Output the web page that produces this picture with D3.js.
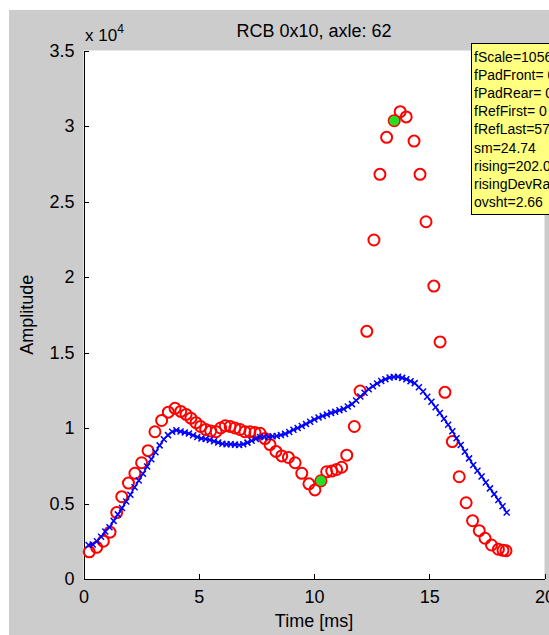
<!DOCTYPE html>
<html><head><meta charset="utf-8">
<script src="https://cdn.jsdelivr.net/npm/d3@7"></script>
<style>body{margin:0;background:#fff}svg{display:block}text{font-family:"Liberation Sans",Arial,sans-serif;fill:#000}</style>
</head><body><svg id="c" width="549" height="635"></svg>
<script>
const titleText = "RCB 0x10, axle: 62";
const xLabel = "Time [ms]";
const yLabel = "Amplitude";
const xTickValues = [0, 5, 10, 15, 20];
const yTickValues = [0, 0.5, 1, 1.5, 2, 2.5, 3, 3.5];
const yTickLabels = ["0", "0.5", "1", "1.5", "2", "2.5", "3", "3.5"];
const yExponent = "4";

// raw samples (red circles), amplitude in units of 10^4
const rawTime = [0.25,0.57,0.86,1.15,1.44,1.66,1.95,2.23,2.52,2.80,3.10,3.39,3.68,3.97,4.22,4.45,4.66,4.88,5.08,5.30,5.52,5.75,5.95,6.15,6.36,6.57,6.79,7.00,7.22,7.44,7.66,7.87,8.09,8.35,8.60,8.89,9.18,9.47,9.78,10.04,10.30,10.55,10.77,10.98,11.20,11.42,11.75,12.00,12.29,12.60,12.86,13.15,13.48,13.74,14.00,14.34,14.60,14.86,15.20,15.47,15.68,16.00,16.30,16.60,16.88,17.17,17.42,17.70,18.00,18.20,18.33];
const rawAmp = [0.18,0.21,0.25,0.31,0.44,0.545,0.635,0.70,0.77,0.85,0.975,1.05,1.105,1.13,1.11,1.09,1.065,1.035,1.01,0.99,0.98,0.975,1.0,1.015,1.01,1.0,0.99,0.975,0.975,0.97,0.965,0.93,0.89,0.845,0.815,0.805,0.77,0.70,0.63,0.59,0.65,0.71,0.715,0.725,0.74,0.82,1.01,1.245,1.64,2.245,2.68,2.925,3.035,3.095,3.06,2.90,2.68,2.366,1.94,1.57,1.236,0.91,0.677,0.505,0.386,0.32,0.27,0.225,0.197,0.19,0.187];

// smoothed signal (blue x line), sampled every smoothDt ms from smoothT0
const smoothT0 = 0.22;
const smoothDt = 0.1814;
const smoothAmp = [0.225,0.229,0.25,0.28,0.314,0.343,0.385,0.428,0.47,0.513,0.558,0.607,0.652,0.697,0.745,0.793,0.839,0.885,0.925,0.953,0.975,0.985,0.977,0.97,0.963,0.952,0.941,0.931,0.927,0.921,0.912,0.904,0.896,0.893,0.892,0.89,0.888,0.893,0.903,0.915,0.928,0.94,0.941,0.942,0.945,0.947,0.954,0.961,0.974,0.988,1.0,1.013,1.027,1.042,1.056,1.069,1.079,1.09,1.10,1.108,1.117,1.126,1.142,1.158,1.182,1.208,1.233,1.257,1.276,1.295,1.311,1.323,1.335,1.338,1.34,1.332,1.323,1.31,1.297,1.27,1.242,1.207,1.174,1.137,1.099,1.061,1.022,0.979,0.932,0.888,0.843,0.799,0.755,0.717,0.679,0.639,0.60,0.562,0.523,0.482,0.44];

// highlighted points (green)
const markTime = [10.30, 13.48];
const markAmp = [0.65, 3.035];

const infoLines = ["fScale=1056.3","fPadFront= 0","fPadRear= 0","fRefFirst= 0","fRefLast=57","sm=24.74","rising=202.05","risingDevRatio","ovsht=2.66"];

const svg = d3.select("#c");
svg.append("rect").attr("x",0).attr("y",0).attr("width",549).attr("height",635).attr("fill","#fff");
svg.append("rect").attr("x",9).attr("y",10).attr("width",540).attr("height",625).attr("fill","#cccccc");

const x = d3.scaleLinear().domain([0,20]).range([83.5,544.5]);
const y = d3.scaleLinear().domain([0,3.5]).range([579,50.5]);

svg.append("rect").attr("x",x(0)).attr("y",y(3.5)).attr("width",x(20)-x(0)).attr("height",y(0)-y(3.5)).attr("fill","#fff");

// axes
const gx = svg.append("g").attr("transform",`translate(0,${y(0)})`)
  .call(d3.axisBottom(x).tickValues(xTickValues).tickFormat(d3.format("d")).tickSizeInner(-5).tickSizeOuter(0).tickPadding(11));
const gy = svg.append("g").attr("transform",`translate(${x(0)},0)`)
  .call(d3.axisLeft(y).tickValues(yTickValues).tickFormat((d,i)=>yTickLabels[i]).tickSizeInner(-5).tickSizeOuter(0).tickPadding(9));
[gx,gy].forEach(g=>{
  g.selectAll("path,line").attr("stroke","#000").attr("stroke-width",1).attr("shape-rendering","crispEdges");
  g.selectAll("text").attr("font-size",18).attr("fill","#000").attr("font-family",'"Liberation Sans",Arial,sans-serif');
});

// exponent label
const ex = svg.append("text").attr("x",85).attr("y",41).attr("font-size",17);
ex.append("tspan").text("x 10");
ex.append("tspan").attr("dy",-8).attr("font-size",12).text(yExponent);

// title and axis labels
svg.append("text").attr("x",(x(0)+x(20))/2).attr("y",37).attr("text-anchor","middle").attr("font-size",18).text(titleText);
svg.append("text").attr("x",(x(0)+x(20))/2).attr("y",627).attr("text-anchor","middle").attr("font-size",18).text(xLabel);
svg.append("text").attr("transform",`translate(33,${(y(0)+y(3.5))/2}) rotate(-90)`).attr("text-anchor","middle").attr("font-size",18).text(yLabel);

// raw circles
const raw = rawTime.map((t,i)=>({t, v: rawAmp[i]}));
svg.append("g").selectAll("circle").data(raw).join("circle")
  .attr("cx",d=>x(d.t)).attr("cy",d=>y(d.v)).attr("r",5.5)
  .attr("fill","none").attr("stroke","#ff0000").attr("stroke-width",2);

// smoothed line with x markers
const sm = smoothAmp.map((v,i)=>({t: smoothT0 + i*smoothDt, v}));
svg.append("path").datum(sm)
  .attr("d",d3.line().x(d=>x(d.t)).y(d=>y(d.v)))
  .attr("fill","none").attr("stroke","#0000ff").attr("stroke-width",1.5);
svg.append("g").selectAll("path").data(sm).join("path")
  .attr("transform",d=>`translate(${x(d.t)},${y(d.v)})`)
  .attr("d","M-3,-3L3,3M-3,3L3,-3").attr("stroke","#0000ff").attr("stroke-width",1.5).attr("fill","none");

// green marks
const mk = markTime.map((t,i)=>({t, v: markAmp[i]}));
svg.append("g").selectAll("circle").data(mk).join("circle")
  .attr("cx",d=>x(d.t)).attr("cy",d=>y(d.v)).attr("r",5)
  .attr("fill","#22e022").attr("stroke","none");

// info box
svg.append("rect").attr("x",471.5).attr("y",43.5).attr("width",120).attr("height",171)
  .attr("fill","#ffff80").attr("stroke","#000").attr("stroke-width",1);
svg.append("g").selectAll("text").data(infoLines).join("text")
  .attr("x",474).attr("y",(d,i)=>61.5 + i*18.2).attr("font-size",14).text(d=>d);
</script></body></html>
